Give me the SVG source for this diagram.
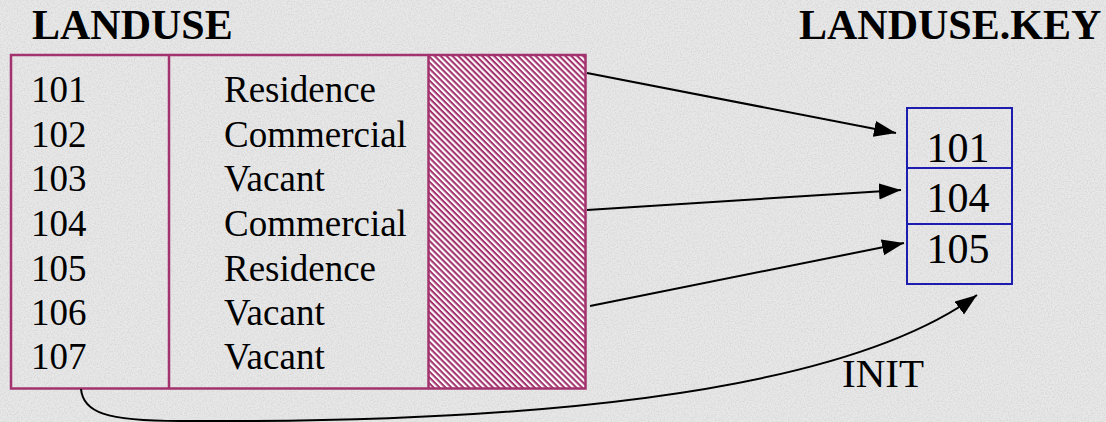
<svg xmlns="http://www.w3.org/2000/svg" width="1106" height="422" viewBox="0 0 1106 422">
  <defs>
    <filter id="grain" x="0" y="0" width="100%" height="100%">
      <feTurbulence type="fractalNoise" baseFrequency="0.7" numOctaves="2" seed="3" result="n"/>
      <feColorMatrix in="n" type="matrix" values="0 0 0 0 0.5  0 0 0 0 0.5  0 0 0 0 0.5  0 0 0 1.6 -0.6"/>
    </filter>
    <pattern id="hatch" patternUnits="userSpaceOnUse" width="8" height="4.2" patternTransform="rotate(45)">
      <rect width="8" height="4.2" fill="#ffffff"/>
      <rect width="8" height="2.1" fill="#a3336e"/>
    </pattern>
    <marker id="arrow" markerUnits="userSpaceOnUse" markerWidth="24" markerHeight="18" refX="22" refY="8" orient="auto">
      <path d="M0,0 L22,8 L0,16 Z" fill="#000"/>
    </marker>
    <style>
      text { font-family: 'Liberation Serif', 'DejaVu Serif', serif; fill: #000; }
      .title { font-weight: bold; font-size: 42px; }
      .cell { font-size: 37px; }
      .key { font-size: 42px; text-anchor: middle; }
      .label { font-size: 41px; }
      .tbl { fill: none; stroke: #a3336e; stroke-width: 2.5; }
      .kbox { fill: none; stroke: #1c1cae; stroke-width: 2; }
      .conn { fill: none; stroke: #000; stroke-width: 2; marker-end: url(#arrow); }
    </style>
  </defs>

  <rect width="1106" height="422" fill="#e8e8e8"/>
  <rect width="1106" height="422" filter="url(#grain)" opacity="0.5"/>

  <g id="landuse">
    <text class="title" x="32" y="39">LANDUSE</text>
    <rect x="428.5" y="55" width="157" height="333.5" fill="url(#hatch)"/>
    <rect class="tbl" x="11" y="55" width="574.5" height="333.5"/>
    <line class="tbl" x1="169" y1="55" x2="169" y2="388.5"/>
    <line class="tbl" x1="428.5" y1="55" x2="428.5" y2="388.5"/>
    <g>
      <text class="cell" x="31" y="102">101</text>
      <text class="cell" x="31" y="147">102</text>
      <text class="cell" x="31" y="191">103</text>
      <text class="cell" x="31" y="236">104</text>
      <text class="cell" x="31" y="281">105</text>
      <text class="cell" x="31" y="325">106</text>
      <text class="cell" x="31" y="369">107</text>
      <text class="cell" x="224" y="102">Residence</text>
      <text class="cell" x="224" y="147">Commercial</text>
      <text class="cell" x="224" y="191">Vacant</text>
      <text class="cell" x="224" y="236">Commercial</text>
      <text class="cell" x="224" y="281">Residence</text>
      <text class="cell" x="224" y="325">Vacant</text>
      <text class="cell" x="224" y="369">Vacant</text>
    </g>
  </g>

  <g id="landuse-key">
    <text class="title" x="799" y="39">LANDUSE.KEY</text>
    <rect class="kbox" x="907" y="108" width="105" height="176"/>
    <line class="kbox" x1="907" y1="168" x2="1012" y2="168"/>
    <line class="kbox" x1="907" y1="224" x2="1012" y2="224"/>
    <text class="key" x="958" y="162">101</text>
    <text class="key" x="958" y="212">104</text>
    <text class="key" x="958" y="263">105</text>
  </g>

  <g id="connectors">
    <line class="conn" x1="587" y1="73" x2="896" y2="133"/>
    <line class="conn" x1="587" y1="210" x2="901" y2="190"/>
    <line class="conn" x1="590" y1="306" x2="904" y2="243"/>
    <path class="conn" d="M81,389 C83,412 105,421 180,421 Q800,425 977,295"/>
    <text class="label" x="842" y="387">INIT</text>
  </g>
</svg>
